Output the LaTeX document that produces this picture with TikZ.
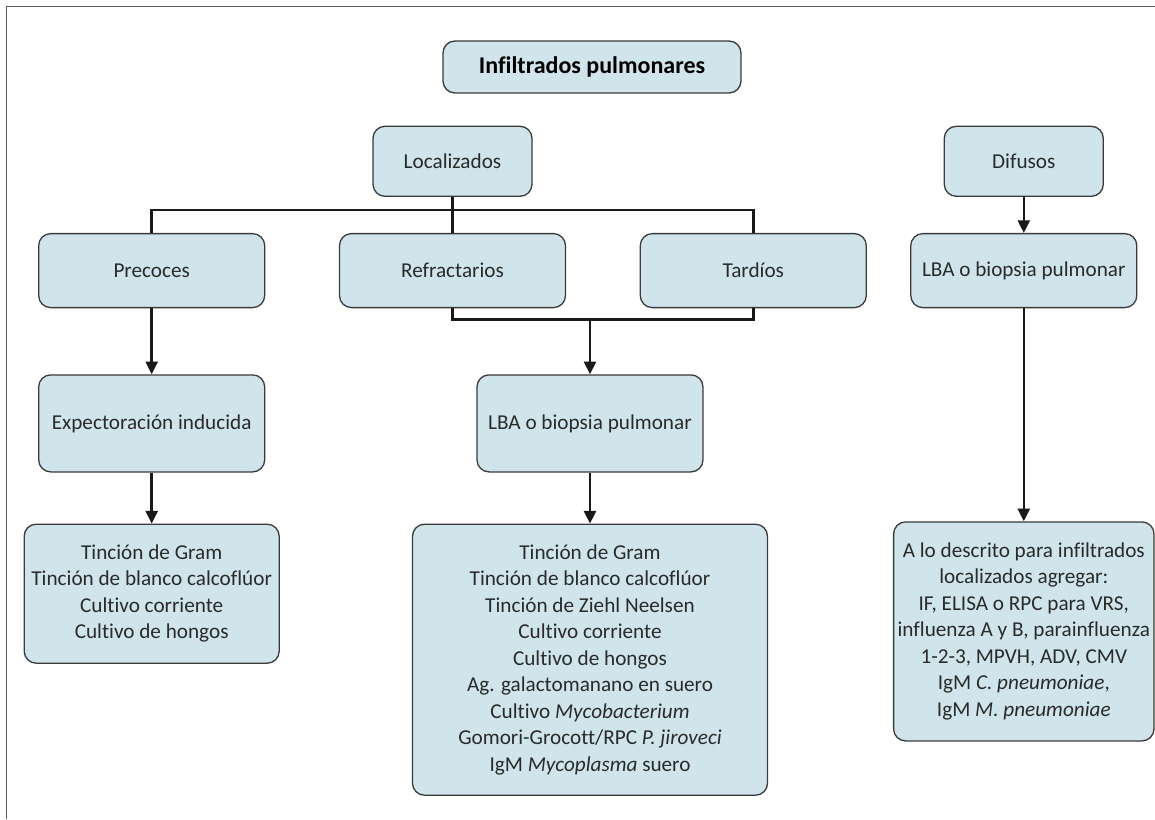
\documentclass[tikz,border=0pt]{standalone}
\usepackage{fontspec}
\setmainfont{Carlito}[Ligatures=NoCommon]
\usetikzlibrary{positioning, calc, arrows.meta}
\definecolor{boxblue}{HTML}{CFE5EB}
\definecolor{boxline}{HTML}{3A3A3A}
\definecolor{framegray}{HTML}{5A5A5A}
\definecolor{textgray}{HTML}{2A2A2A}
\tikzset{
  box/.style={draw=boxline, fill=boxblue, rounded corners=6pt, line width=0.65pt, align=center, inner sep=2pt, text=textgray, font=\fontsize{10.6}{13.25}\selectfont},
  head/.style={box, text=black, font=\bfseries\fontsize{12}{14}\selectfont, minimum width=149pt, minimum height=26pt},
  smallbox/.style={box, minimum width=79.5pt, minimum height=35pt},
  rowbox/.style={box, minimum width=113pt, minimum height=37pt},
  testbox/.style={box, minimum width=113pt, minimum height=48.5pt},
  link/.style={draw=black!90, line width=1.25pt},
  flow/.style={link, -{Triangle[length=6.3pt, width=6pt]}},
  frame/.style={draw=framegray, line width=0.75pt}
}
\begin{document}
\begin{tikzpicture}
  \useasboundingbox (-296pt,33.5pt) rectangle (281.5pt,-376pt);
  \draw[frame] (-292.75pt,-376pt) |- (281.5pt,30.25pt);
  \node[head] (title) {Infiltrados pulmonares};
  % localizados / difusos
  \node[smallbox, below=16pt of title, xshift=-69.75pt] (loc) {Localizados};
  \node[smallbox, right=205.5pt of loc] (dif) {Difusos};
  \node[rowbox, below=18pt of loc] (refr) {Refractarios};
  \node[rowbox, left=36.75pt of refr] (prec) {Precoces};
  \node[rowbox, right=36.75pt of refr] (tard) {Tardíos};
  \node[rowbox, below=18pt of dif] (lbar) {LBA o biopsia pulmonar};
  \coordinate[below=6.5pt of loc.south] (bus);
  \draw[link] (prec.north) |- (bus) -| (tard.north);
  \draw[link] (loc.south) -- (refr.north);
  \draw[flow] (dif) -- (lbar);
  % pruebas
  \node[testbox, below=33pt of prec] (expec) {Expectoración inducida};
  \node[testbox, right=105.5pt of expec] (lbam) {LBA o biopsia pulmonar};
  \draw[flow] (prec) -- (expec);
  \coordinate[below=5.5pt of refr.south] (merge);
  \draw[link] (refr.south) -- (merge) -| (tard.south);
  \draw[flow] (merge -| lbam.north) -- (lbam.north);
  % resultados
  \node[box, minimum width=127.5pt, minimum height=69.5pt, below=25.5pt of expec] (resl)
    {Tinción de Gram\\Tinción de blanco calcoflúor\\Cultivo corriente\\Cultivo de hongos};
  \node[box, minimum width=177.5pt, minimum height=135.5pt, below=25.5pt of lbam] (resm)
    {Tinción de Gram\\Tinción de blanco calcoflúor\\Tinción de Ziehl Neelsen\\Cultivo corriente\\Cultivo de hongos\\Ag. galactomanano en suero\\Cultivo \textit{Mycobacterium}\\Gomori-Grocott/RPC \textit{P. jiroveci}\\IgM \textit{Mycoplasma} suero};
  \node[box, minimum width=127.5pt, minimum height=109.5pt, below=106.5pt of lbar] (resr)
    {A lo descrito para infiltrados\\localizados agregar:\\IF, ELISA o RPC para VRS,\\influenza A y B, parainfluenza\\1-2-3, MPVH, ADV, CMV\\IgM \textit{C. pneumoniae},\\IgM \textit{M. pneumoniae}};
  \draw[flow] (expec) -- (resl);
  \draw[flow] (lbam) -- (resm);
  \draw[flow] (lbar) -- (resr);
\end{tikzpicture}
\end{document}
